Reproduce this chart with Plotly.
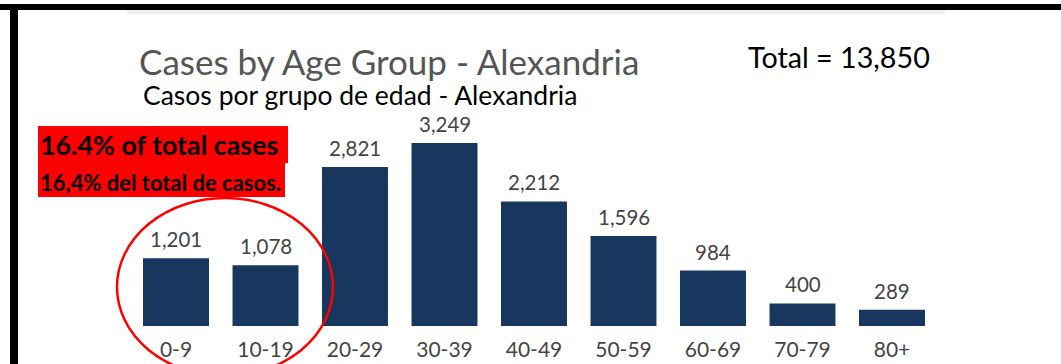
import plotly.graph_objects as go

W, H = 1061, 364

categories = ["0-9", "10-19", "20-29", "30-39", "40-49", "50-59", "60-69", "70-79", "80+"]
cases = [1201, 1078, 2821, 3249, 2212, 1596, 984, 400, 289]
value_labels = ["1,201", "1,078", "2,821", "3,249", "2,212", "1,596", "984", "400", "289"]

title_en = "Cases by Age Group - Alexandria"
title_es = "Casos por grupo de edad - Alexandria"
total_text = "Total = 13,850"
share_en = "16.4% of total cases"
share_es = "16,4% del total de casos."

FONT = "Lato"
BAR = "#17375e"
GREY = "#444444"


def px(x):
    return x / W


def py(y):
    return 1 - y / H


fig = go.Figure()
fig.add_trace(go.Bar(x=categories, y=cases, marker=dict(color=BAR, line=dict(width=0)),
                     hoverinfo="skip"))

annotations = []
for c, v, t in zip(categories, cases, value_labels):
    annotations.append(dict(x=c, y=v, xref="x", yref="y", text=t, showarrow=False,
                            yanchor="middle", yshift=19, borderpad=0,
                            font=dict(family=FONT, size=20.5, color=GREY)))

annotations += [
    dict(x=px(137), y=py(61), xref="paper", yref="paper", text=title_en, showarrow=False,
         xanchor="left", yanchor="middle", font=dict(family=FONT, size=35, color="#555555")),
    dict(x=px(142), y=py(95), xref="paper", yref="paper", text=title_es, showarrow=False,
         xanchor="left", yanchor="middle", borderpad=0,
         font=dict(family=FONT, size=26.5, color="#000000")),
    dict(x=px(746), y=py(57), xref="paper", yref="paper", text=total_text, showarrow=False,
         xanchor="left", yanchor="middle", font=dict(family=FONT, size=28.7, color="#000000")),
    dict(x=px(38), y=py(145), xref="paper", yref="paper", text="<b>" + share_en + "</b>",
         showarrow=False, xanchor="left", yanchor="middle",
         font=dict(family=FONT, size=26.8, color="#000000")),
    dict(x=px(38), y=py(182), xref="paper", yref="paper", text="<b>" + share_es + "</b>",
         showarrow=False, xanchor="left", yanchor="middle",
         font=dict(family=FONT, size=22, color="#000000")),
]

shapes = [
    # light shadow strip at top of chart image
    dict(type="rect", xref="paper", yref="paper", x0=px(127), x1=px(945), y0=py(14), y1=py(9),
         fillcolor="#ededed", line=dict(width=0), layer="below"),
    # black frame lines
    dict(type="rect", xref="paper", yref="paper", x0=0, x1=1, y0=py(10), y1=py(4),
         fillcolor="#000000", line=dict(width=0)),
    dict(type="rect", xref="paper", yref="paper", x0=px(10), x1=px(18), y0=0, y1=py(4),
         fillcolor="#000000", line=dict(width=0)),
    # red highlight box
    dict(type="rect", xref="paper", yref="paper", x0=px(38), x1=px(288), y0=py(163), y1=py(126),
         fillcolor="#ff0000", line=dict(width=0), layer="below"),
    dict(type="rect", xref="paper", yref="paper", x0=px(38), x1=px(285), y0=py(197), y1=py(162),
         fillcolor="#ff0000", line=dict(width=0), layer="below"),
    # red ellipse
    dict(type="circle", xref="paper", yref="paper", x0=px(117), x1=px(333), y0=py(376), y1=py(198),
         line=dict(color="#ff0000", width=2.5), fillcolor="rgba(0,0,0,0)"),
]

fig.update_layout(
    width=W, height=H,
    margin=dict(l=0, r=0, t=0, b=0),
    paper_bgcolor="white", plot_bgcolor="white",
    showlegend=False,
    bargap=0.263,
    xaxis=dict(domain=[px(131.25), px(936.75)], showgrid=False, showline=False, zeroline=False,
               ticks="", ticklabelstandoff=9,
               tickfont=dict(family=FONT, size=21, color=GREY), fixedrange=True),
    yaxis=dict(domain=[py(326), py(100)], range=[0, 4012], visible=False, fixedrange=True),
    annotations=annotations,
    shapes=shapes,
)

fig.write_html("out.html", config={"displayModeBar": False})
